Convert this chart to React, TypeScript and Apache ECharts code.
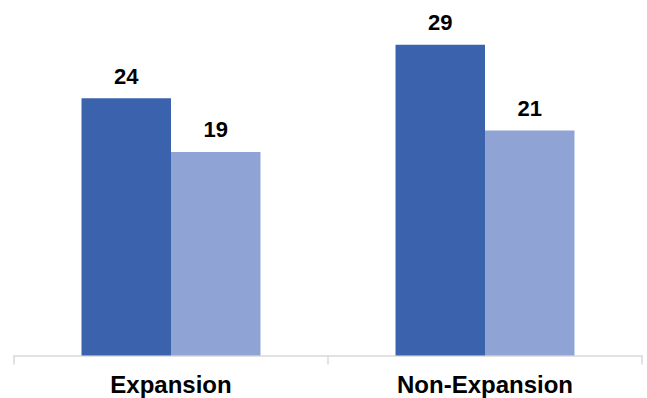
import React, { useEffect, useRef } from "react";
import * as echarts from "echarts";

const categories = ["Expansion", "Non-Expansion"];
const seriesA = [24, 29];
const seriesB = [19, 21];
const yMax = 30;

export default function App() {
  const ref = useRef<HTMLDivElement>(null);
  useEffect(() => {
    if (!ref.current) return;
    const chart = echarts.init(ref.current, null, { renderer: "svg" });
    const labelStyle = {
      show: true,
      position: "top" as const,
      distance: 11,
      fontFamily: "Liberation Sans, Arial, sans-serif",
      fontWeight: "bold" as const,
      fontSize: 22,
      color: "#000000",
    };
    chart.setOption({
      animation: false,
      backgroundColor: "#ffffff",
      grid: { left: 14, right: 5, top: 34, bottom: 42.5, containLabel: false },
      xAxis: {
        type: "category",
        data: categories,
        axisLine: { show: true, lineStyle: { color: "#d9d9d9", width: 1.5 } },
        axisTick: { show: true, length: 9, lineStyle: { color: "#d9d9d9", width: 1.5 } },
        axisLabel: {
          margin: 17,
          fontFamily: "Liberation Sans, Arial, sans-serif",
          fontWeight: "bold",
          fontSize: 24,
          color: "#000000",
        },
      },
      yAxis: {
        type: "value",
        min: 0,
        max: yMax,
        show: false,
        splitLine: { show: false },
      },
      series: [
        {
          type: "bar",
          data: seriesA,
          barGap: "0%",
          barCategoryGap: "43%",
          itemStyle: { color: "#3B62AC" },
          label: labelStyle,
        },
        {
          type: "bar",
          data: seriesB,
          barGap: "0%",
          barCategoryGap: "43%",
          itemStyle: { color: "#8FA4D5" },
          label: labelStyle,
        },
      ],
    });
    return () => chart.dispose();
  }, []);
  return <div ref={ref} style={{ width: 647, height: 398, position: "absolute", left: 0, top: 0 }} />;
}
